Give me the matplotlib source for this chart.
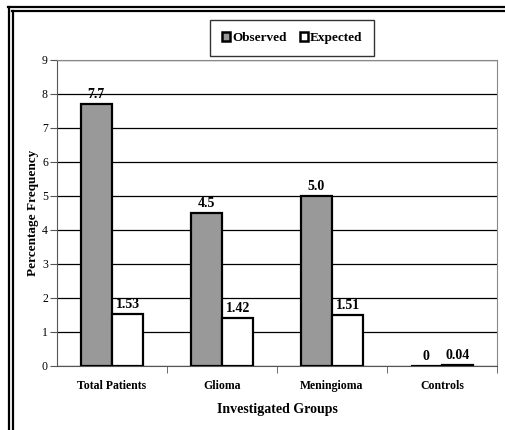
import numpy as np
import matplotlib
matplotlib.use("Agg")
import matplotlib.pyplot as plt
from matplotlib.lines import Line2D

# Data
groups = ["Total Patients", "Glioma", "Meningioma", "Controls"]
observed = [7.7, 4.5, 5.0, 0.0]
expected = [1.53, 1.42, 1.51, 0.04]
observed_labels = ["7.7", "4.5", "5.0", "0"]
expected_labels = ["1.53", "1.42", "1.51", "0.04"]

plt.rcParams["font.family"] = "Liberation Serif"

W, H = 505, 430
fig = plt.figure(figsize=(W / 100, H / 100), dpi=100)
ax = fig.add_axes([57 / W, 1 - 366 / H, 440 / W, 306 / H])

# double frame, top and left only
for p in (9, 13):
    fig.add_artist(Line2D([p / W, p / W], [0, 1 - (p - 2) / H], transform=fig.transFigure,
                          color="black", linewidth=1.6))
    fig.add_artist(Line2D([(p - 1) / W, 1], [1 - (p - 2) / H, 1 - (p - 2) / H],
                          transform=fig.transFigure, color="black", linewidth=1.6))

x = np.arange(len(groups))
w = 0.285
ax.bar(x - w / 2, observed, w, color="#999999", edgecolor="black", linewidth=1.6,
       label="Observed", zorder=3)
ax.bar(x + w / 2, expected, w, color="white", edgecolor="black", linewidth=1.6,
       label="Expected", zorder=3)

for xi, v, t in zip(x - w / 2, observed, observed_labels):
    ax.text(xi, v + 0.1, t, ha="center", va="bottom", fontsize=10, fontweight="bold")
for xi, v, t in zip(x + w / 2, expected, expected_labels):
    ax.text(xi, v + 0.08, t, ha="center", va="bottom", fontsize=10, fontweight="bold")

ax.set_xlim(-0.5, 3.5)
ax.set_ylim(0, 9)
ax.set_yticks(range(10))
ax.yaxis.grid(True, color="black", linewidth=0.9)
ax.set_axisbelow(True)

ax.set_xticks(x)
ax.set_xticklabels(groups, fontsize=8.5, fontweight="bold")
ax.tick_params(axis="x", length=0, pad=10)
ax.set_xticks([0.5, 1.5, 2.5, 3.5], minor=True)
ax.tick_params(axis="x", which="minor", length=5, direction="out", color="#555555")
ax.tick_params(axis="y", labelsize=8.5, length=5, color="#555555", pad=1.5)

for s in ("top", "right"):
    ax.spines[s].set_color("#888888")
ax.spines["left"].set_color("#555555")
ax.spines["bottom"].set_color("#555555")

ax.set_ylabel("Percentage Frequency", fontsize=9.5, fontweight="bold", labelpad=2)
ax.set_xlabel("Investigated Groups", fontsize=10, fontweight="bold", labelpad=8)

leg = fig.legend(loc="center", bbox_to_anchor=(292 / W, 1 - 38 / H), ncol=2,
                 frameon=True, fancybox=False, edgecolor="black",
                 prop={"weight": "bold", "size": 9.5}, handlelength=0.6, handleheight=0.6,
                 handletextpad=0.15, columnspacing=1.0, borderpad=0.9, borderaxespad=0)
leg.get_frame().set_linewidth(1.0)
for h in leg.legend_handles:
    h.set_linewidth(1.8)
for t in leg.get_texts():
    t.set_va("baseline")

fig.savefig("out.png", dpi=100)
